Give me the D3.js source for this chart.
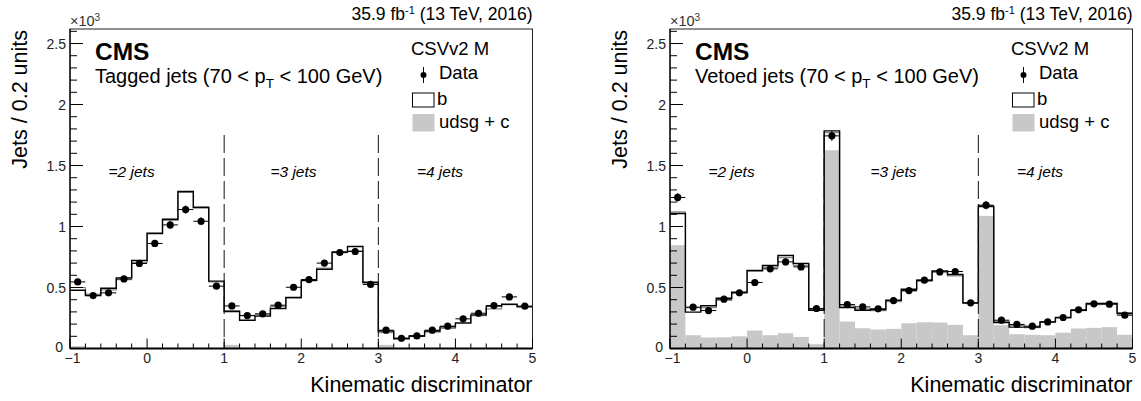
<!DOCTYPE html>
<html><head><meta charset="utf-8">
<script src="https://cdn.jsdelivr.net/npm/d3@7"></script>
<style>
body{margin:0;background:#fff}
svg{display:block}
text{font-family:"Liberation Sans",Arial,Helvetica,sans-serif;fill:#000}
</style></head>
<body><svg id="c" width="1141" height="401"></svg>
<script>
// ---- data (values in units of 10^3 jets per 0.2 units) ----
const binEdges = [-1,-0.8,-0.6,-0.4,-0.2,0,0.2,0.4,0.6,0.8,1,1.2,1.4,1.6,1.8,2,2.2,2.4,2.6,2.8,3,3.2,3.4,3.6,3.8,4,4.2,4.4,4.6,4.8,5];

const taggedData  = [0.546,0.434,0.456,0.570,0.697,0.861,1.013,1.139,1.043,0.511,0.349,0.270,0.284,0.355,0.502,0.565,0.700,0.787,0.795,0.525,0.150,0.084,0.103,0.150,0.183,0.243,0.289,0.352,0.423,0.347];
const taggedTotal = [0.478,0.434,0.494,0.579,0.721,0.945,1.060,1.287,1.158,0.552,0.303,0.232,0.265,0.328,0.418,0.560,0.650,0.792,0.836,0.543,0.144,0.080,0.103,0.144,0.177,0.210,0.276,0.347,0.363,0.341];
const taggedAlt   = [0.500,0.445,0.480,0.565,0.705,0.940,1.050,1.280,1.150,0.545,0.310,0.270,0.275,0.345,0.415,0.555,0.660,0.785,0.800,0.530,0.130,0.085,0.100,0.135,0.165,0.205,0.270,0.325,0.360,0.345];
const taggedLight = [0.020,0.004,0.004,0.004,0.004,0.004,0.004,0.004,0.004,0.004,0.030,0.004,0.004,0.004,0.004,0.004,0.004,0.004,0.004,0.004,0.030,0.004,0.004,0.004,0.004,0.004,0.004,0.004,0.004,0.004];

const vetoedData  = [1.238,0.339,0.311,0.404,0.456,0.541,0.653,0.710,0.669,0.328,1.743,0.360,0.341,0.325,0.393,0.475,0.560,0.628,0.631,0.374,1.175,0.232,0.197,0.183,0.218,0.254,0.317,0.366,0.363,0.273];
const vetoedTotal = [1.107,0.298,0.350,0.412,0.461,0.639,0.680,0.762,0.697,0.314,1.784,0.336,0.314,0.320,0.396,0.486,0.560,0.636,0.607,0.374,1.166,0.213,0.175,0.175,0.218,0.254,0.314,0.369,0.369,0.287];
const vetoedAlt   = [1.120,0.335,0.335,0.395,0.455,0.635,0.665,0.745,0.680,0.320,1.770,0.350,0.325,0.310,0.385,0.470,0.550,0.630,0.595,0.370,1.160,0.225,0.190,0.170,0.215,0.250,0.310,0.360,0.370,0.295];
const vetoedLight = [0.847,0.109,0.090,0.092,0.100,0.147,0.109,0.125,0.095,0.035,1.625,0.221,0.166,0.156,0.161,0.207,0.215,0.213,0.194,0.109,1.087,0.191,0.117,0.112,0.109,0.130,0.164,0.169,0.175,0.112];

const xTicks = [-1,0,1,2,3,4,5];
const xTickLabels = ["\u22121","0","1","2","3","4","5"];
const yTicks = [0,0.5,1,1.5,2,2.5];
const yTickLabels = ["0","0.5","1","1.5","2","2.5"];
const jetLabels = ["=2 jets","=3 jets","=4 jets"];
const jetLabelX = [-0.5, 1.6, 3.5];
const separators = [1,3];
const legendLabels = ["CSVv2 M","Data","b","udsg + c"];

const panels = [
  {x0:70,  title:"Tagged jets", data:taggedData, total:taggedTotal, alt:taggedAlt, light:taggedLight},
  {x0:670, title:"Vetoed jets", data:vetoedData, total:vetoedTotal, alt:vetoedAlt, light:vetoedLight}
];

const svg = d3.select("#c");
const W = 462.5, yTop = 29, yBot = 348.5, yMax = 2.619;
const LIGHT = "#c8c8c8";

panels.forEach(p => {
  const g = svg.append("g");
  const x = d3.scaleLinear().domain([-1,5]).range([p.x0, p.x0+W]);
  const y = d3.scaleLinear().domain([0,yMax]).range([yBot, yTop]);
  const bins = p.total.map((v,i)=>({lo:binEdges[i], hi:binEdges[i+1], i}));

  // udsg + c filled
  g.selectAll("rect.light").data(bins).enter().append("rect")
    .attr("x", d=>x(d.lo)).attr("width", d=>x(d.hi)-x(d.lo))
    .attr("y", d=>y(p.light[d.i])).attr("height", d=>yBot - y(p.light[d.i]))
    .attr("fill", LIGHT);

  // step lines
  function stepPath(vals){
    const pts = [];
    vals.forEach((v,i)=>{ pts.push([x(binEdges[i]), y(v)]); pts.push([x(binEdges[i+1]), y(v)]); });
    return d3.line()(pts);
  }
  g.append("path").attr("d", stepPath(p.alt)).attr("fill","none").attr("stroke","#8a8a8a").attr("stroke-width",1.2);
  g.append("path").attr("d", stepPath(p.total)).attr("fill","none").attr("stroke","#000").attr("stroke-width",1.4);

  // separators
  separators.forEach(s=>{
    g.append("line").attr("x1",x(s)).attr("x2",x(s)).attr("y1",y(1.75)).attr("y2",yBot)
      .attr("stroke","#111").attr("stroke-width",1).attr("stroke-dasharray","18,5");
  });

  // jets labels
  jetLabels.forEach((t,i)=>{
    g.append("text").attr("x",x(jetLabelX[i])).attr("y",177).attr("font-size","15.5px")
      .attr("font-style","italic").text(t);
  });

  // data points
  const dg = g.append("g");
  p.data.forEach((v,i)=>{
    const c = (binEdges[i]+binEdges[i+1])/2;
    const e = Math.sqrt(v*1000)/1000;
    dg.append("line").attr("x1",x(binEdges[i])).attr("x2",x(binEdges[i+1])).attr("y1",y(v)).attr("y2",y(v)).attr("stroke","#000").attr("stroke-width",1);
    dg.append("line").attr("x1",x(c)).attr("x2",x(c)).attr("y1",y(v+e)).attr("y2",y(v-e)).attr("stroke","#000").attr("stroke-width",1);
    dg.append("circle").attr("cx",x(c)).attr("cy",y(v)).attr("r",3.6).attr("fill","#000");
  });

  // frame
  g.append("rect").attr("x",p.x0).attr("y",yTop).attr("width",W).attr("height",yBot-yTop)
    .attr("fill","none").attr("stroke","#222").attr("stroke-width",1);
  g.append("line").attr("x1",p.x0).attr("x2",p.x0+W).attr("y1",yBot).attr("y2",yBot).attr("stroke","#000").attr("stroke-width",2);
  g.append("line").attr("x1",p.x0).attr("x2",p.x0).attr("y1",yTop).attr("y2",yBot).attr("stroke","#000").attr("stroke-width",1.2);

  // y ticks
  d3.range(0, 2.61, 0.1).forEach(t=>{
    const major = Math.abs(t*2 - Math.round(t*2)) < 1e-6;
    g.append("line").attr("x1",p.x0).attr("x2",p.x0+(major?13:7)).attr("y1",y(t)).attr("y2",y(t)).attr("stroke","#000").attr("stroke-width",1);
  });
  yTicks.forEach((t,i)=>{
    g.append("text").attr("x",p.x0-(t===0?7:4)).attr("y",y(t) - (t===0?2:0)).attr("dy","0.36em").attr("text-anchor","end")
      .attr("font-size","14px").style("fill","#222").text(yTickLabels[i]);
  });
  // x ticks
  d3.range(-1, 5.01, 0.2).forEach(t=>{
    const major = Math.abs(t - Math.round(t)) < 1e-6;
    g.append("line").attr("x1",x(t)).attr("x2",x(t)).attr("y1",yBot).attr("y2",yBot-(major?10:5)).attr("stroke","#000").attr("stroke-width",1);
  });
  xTicks.forEach((t,i)=>{
    g.append("text").attr("x",x(t) + (t===-1?2.5:0)).attr("y",363).attr("text-anchor","middle")
      .attr("font-size","14px").style("fill","#222").text(xTickLabels[i]);
  });

  // exponent
  const ex = g.append("text").attr("x",p.x0).attr("y",26).attr("font-size","14.5px").style("fill","#333");
  ex.append("tspan").text("\u00d710");
  ex.append("tspan").attr("dy",-5).attr("font-size","10px").text("3");

  // lumi
  const lt = g.append("text").attr("x",p.x0+W).attr("y",20).attr("text-anchor","end").attr("font-size","17.5px");
  lt.append("tspan").text("35.9 fb");
  lt.append("tspan").attr("dy",-6).attr("font-size","11px").text("-1");
  lt.append("tspan").attr("dy",6).text(" (13 TeV, 2016)");

  // CMS + subtitle
  g.append("text").attr("x",p.x0+25).attr("y",60).attr("font-size","24.5px").attr("font-weight","bold").text("CMS");
  const st = g.append("text").attr("x",p.x0+25).attr("y",83).attr("font-size","20px");
  st.append("tspan").text(p.title + " (70 < p");
  st.append("tspan").attr("dy",5).attr("font-size","13.5px").text("T");
  st.append("tspan").attr("dy",-5).text(" < 100 GeV)");

  // legend
  const lx = p.x0 + 341;
  g.append("text").attr("x",lx).attr("y",55).attr("font-size","18.5px").text(legendLabels[0]);
  g.append("line").attr("x1",lx+12.5).attr("x2",lx+12.5).attr("y1",67).attr("y2",83).attr("stroke","#000").attr("stroke-width",1);
  g.append("circle").attr("cx",lx+12.5).attr("cy",75).attr("r",3).attr("fill","#000");
  g.append("text").attr("x",lx+28).attr("y",78.5).attr("font-size","18.5px").text(legendLabels[1]);
  g.append("rect").attr("x",lx+1.5).attr("y",93).attr("width",21.5).attr("height",14).attr("fill","#fff").attr("stroke","#000").attr("stroke-width",1);
  g.append("text").attr("x",lx+26).attr("y",105).attr("font-size","18.5px").text(legendLabels[2]);
  g.append("rect").attr("x",lx+1.5).attr("y",114).attr("width",22).attr("height",17.5).attr("fill",LIGHT);
  g.append("text").attr("x",lx+28).attr("y",128).attr("font-size","18.5px").text(legendLabels[3]);

  // axis titles
  g.append("text").attr("x",p.x0+W).attr("y",392).attr("text-anchor","end").attr("font-size","21.5px").text("Kinematic discriminator");
  g.append("text").attr("transform",`translate(${p.x0-43},30) rotate(-90)`).attr("text-anchor","end").attr("font-size","21.5px").text("Jets / 0.2 units");
});
</script></body></html>
